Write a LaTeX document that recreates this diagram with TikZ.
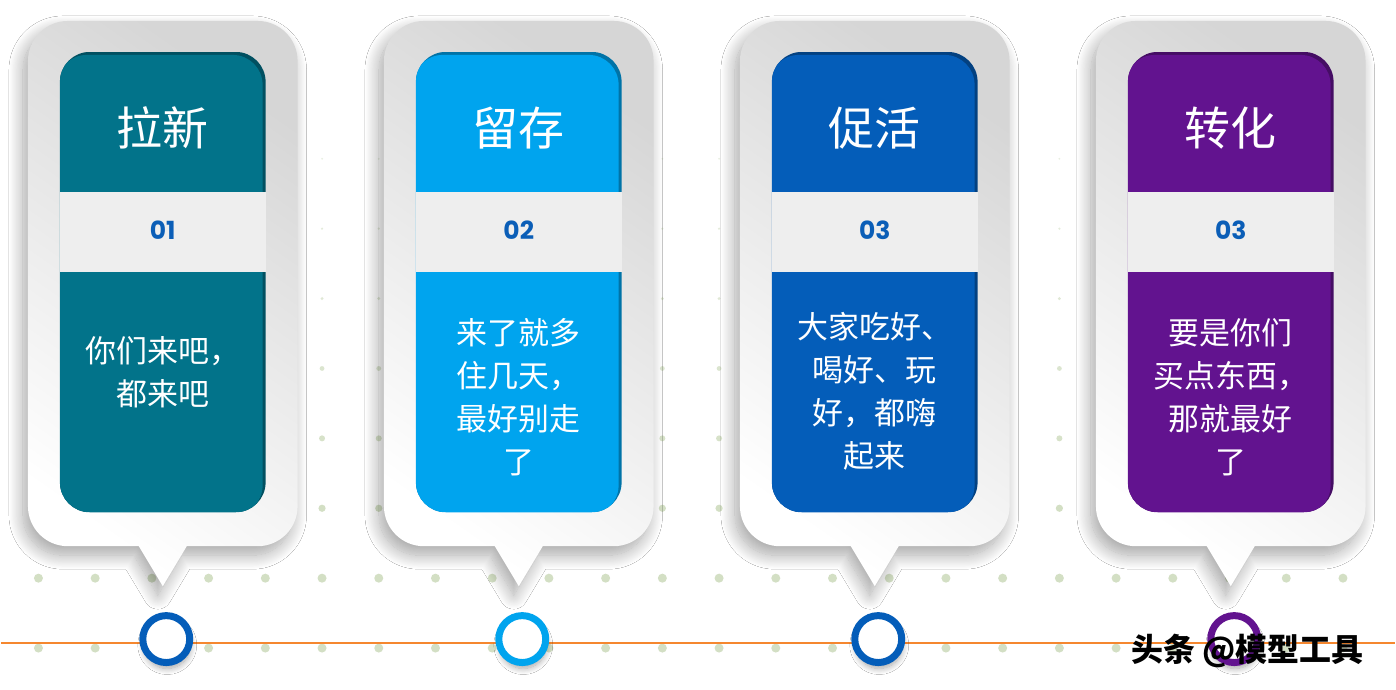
\documentclass[tikz,border=0pt]{standalone}
\usepackage{fontspec}
\usepackage{tikz}
\usetikzlibrary{shadows.blur}
\newfontfamily\cjk{Noto Sans CJK SC}
\newfontfamily\numfont{Poppins}
\definecolor{Teal}{HTML}{02738A}
\definecolor{Sky}{HTML}{00A4EE}
\definecolor{Royal}{HTML}{045DB9}
\definecolor{Violet}{HTML}{62138F}
\definecolor{Digit}{HTML}{0B5EB7}
\definecolor{Band}{HTML}{EEEEEE}
\definecolor{Shade}{HTML}{D6D6D6}
\definecolor{Line}{HTML}{F5872F}
\definecolor{Dot}{HTML}{D3DFC4}

\begin{document}
\begin{tikzpicture}[x=1pt,y=1pt,
    card/.style={top color=Shade,bottom color=white,shading angle=-35,
      blur shadow={shadow xshift=-5pt,shadow yshift=-9pt,shadow blur radius=14pt,
        shadow blur steps=18,shadow opacity=35}},
    title/.style={text=white,font=\cjk\fontsize{46}{46}\selectfont},
    num/.style={text=Digit,font=\numfont\bfseries\fontsize{25}{25}\selectfont},
    body/.style={text=white,align=center,font=\cjk\fontsize{31}{43}\selectfont},
    ring/.style={circle,fill=white,line width=7pt,minimum size=47pt,inner sep=0pt,
      blur shadow={shadow xshift=1pt,shadow yshift=-6pt,shadow blur radius=6pt,
        shadow blur steps=10,shadow opacity=35}}]
  \fill[white] (0,0) rectangle (1396,690);
  % dotted grid and time line
  \foreach \y/\r/\o in {531/1/0.5,461/1.2/0.6,391/1.6/0.7,321/2.4/0.8,251/3/0.9,181/3.6/1,111/4.5/1,41/4.5/1}
    \foreach \k in {0,...,23}
      \fill[Dot,opacity=\o] (37.5+56.8*\k,\y) circle[radius=\r];
  \draw[Line,line width=2pt] (0,46) -- (1396,46);
  % the four cards
  \foreach \c/\col/\ringcol/\head/\idx/\txt/\ty [count=\i] in {
      162/Teal/Royal/拉新/01/你们来吧，\\都来吧/317,
      518.5/Sky/Sky/留存/02/来了就多\\住几天，\\最好别走\\了/292,
      875/Royal/Royal/促活/03/大家吃好、\\喝好、玩\\好，都嗨\\起来/298,
      1231.5/Violet/Violet/转化/03/要是你们\\买点东西，\\那就最好\\了/292} {
    \path[card] (\c-135,183) -- (\c-135,629) arc[start angle=180,end angle=90,radius=40]
      -- (\c+95,669) arc[start angle=90,end angle=0,radius=40]
      -- (\c+135,183) arc[start angle=0,end angle=-90,radius=40]
      -- (\c+24,143) -- (\c,103) -- (\c-24,143)
      -- (\c-95,143) arc[start angle=270,end angle=180,radius=40] -- cycle;
    \begin{scope}
      \clip[rounded corners=30pt] (\c-103,177) rectangle (\c+103,638);
      \fill[fill=\col!70!black] (\c-103,177) rectangle (\c+103,638);
      \fill[fill=\col,rounded corners=30pt] (\c-106,174) rectangle (\c+100,635);
    \end{scope}
    \fill[Band] (\c-103,418) rectangle (\c+103,498);
    \node[title] (head\i) at (\c,562) {\head};
    \node[num] (no\i) at (\c,459) {\idx};
    \node[body] (txt\i) at (\c,\ty) {\txt};
    \node[ring,draw=\ringcol] (dot\i) at (\c+3.5,50) {};
  }
  \node[font=\cjk\bfseries\fontsize{32}{32}\selectfont] (mark) at (1248,38) {头条 @模型工具};
\end{tikzpicture}
\end{document}
